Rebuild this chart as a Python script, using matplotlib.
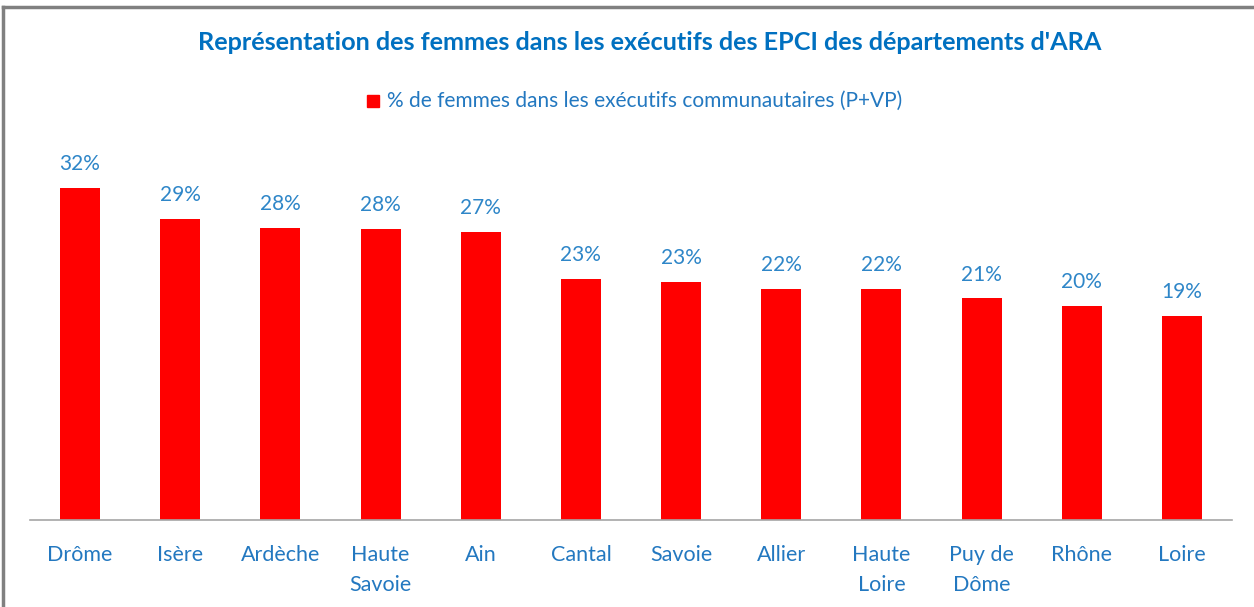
import matplotlib.pyplot as plt
from matplotlib.lines import Line2D
from matplotlib.patches import Rectangle

departements = ["Drôme", "Isère", "Ardèche", "Haute\nSavoie", "Ain", "Cantal",
                "Savoie", "Allier", "Haute\nLoire", "Puy de\nDôme", "Rhône", "Loire"]
pct_femmes = [31.6, 28.7, 27.8, 27.7, 27.4, 23.0, 22.7, 22.0, 22.0, 21.1, 20.4, 19.4]

titre = "Représentation des femmes dans les exécutifs des EPCI des départements d'ARA"
legende = "% de femmes dans les exécutifs communautaires (P+VP)"

plt.rcParams['font.family'] = ['Lato', 'DejaVu Sans']

fig = plt.figure(figsize=(12.54, 6.07), dpi=100)
ax = fig.add_axes([30 / 1254, 87 / 607, 1202 / 1254, 367.5 / 607])

x = range(len(departements))
ax.bar(x, pct_femmes, width=0.4, color='#ff0000')
ax.set_xlim(-0.5, len(departements) - 0.5)
ax.set_ylim(0, 35)

for i, v in enumerate(pct_femmes):
    ax.annotate(f"{round(v)}%", (i, v), textcoords="offset points", xytext=(0, 10),
                ha='center', va='bottom', color='#2e86c8', fontsize=15)

ax.set_xticks(list(x))
ax.set_xticklabels(departements, color='#2378c0', fontsize=15.5, linespacing=1.65)
ax.tick_params(axis='x', length=0, pad=18)
ax.set_yticks([])
for s in ['top', 'right', 'left']:
    ax.spines[s].set_visible(False)
ax.spines['bottom'].set_color('#a6a6a6')
ax.spines['bottom'].set_linewidth(1.2)

# title + legend
fig.text(650 / 1254, 1 - 43 / 607, titre, ha='center', va='center',
         color='#0070c0', fontsize=18.2, fontweight='bold')
fig.add_artist(Rectangle((367 / 1254, 1 - 107 / 607), 12 / 1254, 12 / 607,
                         color='#ff0000', transform=fig.transFigure))
fig.text(387 / 1254, 1 - 101 / 607, legende, ha='left', va='center',
         color='#2378c0', fontsize=15)

# grey frame (only top and left visible)
fig.add_artist(Line2D([3 / 1254, 3 / 1254], [0, 1 - 7 / 607], color='#808080', lw=2.5,
                      transform=fig.transFigure))
fig.add_artist(Line2D([3 / 1254, 1], [1 - 7 / 607, 1 - 7 / 607], color='#808080', lw=2.5,
                      transform=fig.transFigure))

fig.savefig("out.png", dpi=100)
